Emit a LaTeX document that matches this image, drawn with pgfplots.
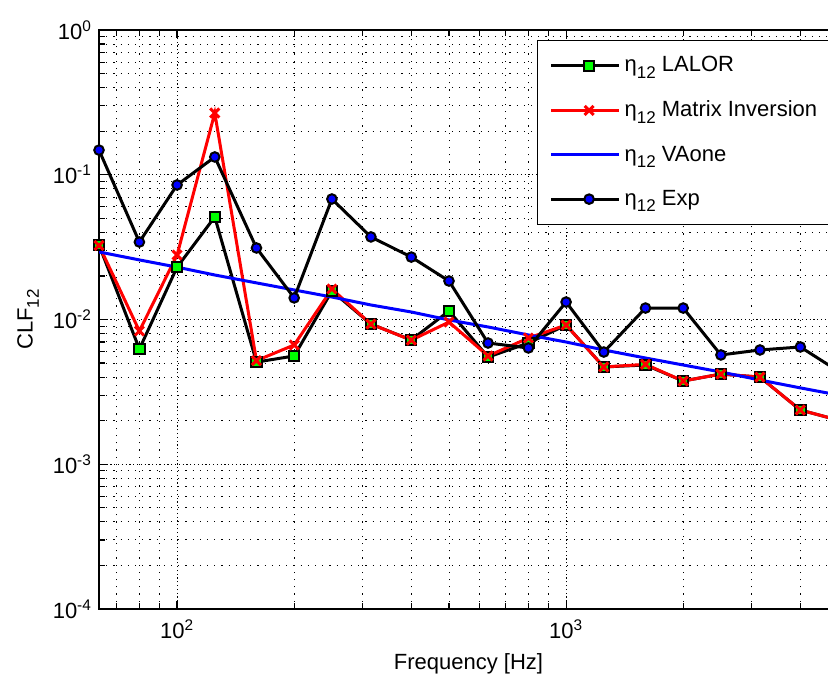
\documentclass[border=0pt]{standalone}
\usepackage{fontspec}
\setmainfont{Liberation Sans}
\usepackage{pgfplots}
\usepackage{pgfplotstable}
\pgfplotsset{compat=1.18}

% lowered subscript for the loss-factor symbols
\newcommand{\lo}[1]{\raisebox{-0.55ex}{\fontsize{8.5}{9}\selectfont #1}}

% coupling loss factor per one-third octave band
\pgfplotstableread{
f     lalor    matinv   vaone    exp
63    0.0327   0.0325   0.0293   0.148
80    0.00625  0.00833  0.0258   0.0343
100   0.0230   0.0279   0.0230   0.0850
125   0.0511   0.267    0.0203   0.1327
160   0.00508  0.0052   0.0179   0.0312
200   0.0056   0.00667  0.0160   0.0141
250   0.01574  0.01625  0.0143   0.0680
315   0.0093   0.0093   0.0126   0.0372
400   0.00722  0.0072   0.01127  0.0270
500   0.01145  0.0096   0.00993  0.01845
630   0.0055   0.0056   0.00888  0.00688
800   0.00688  0.00745  0.00782  0.00636
1000  0.00916  0.00916  0.00699  0.0132
1250  0.0047   0.0047   0.00616  0.00596
1600  0.00485  0.0049   0.00542  0.0120
2000  0.00376  0.00376  0.00485  0.0120
2500  0.0042   0.0042   0.00434  0.00569
3150  0.0040   0.0040   0.00382  0.00616
4000  0.00237  0.00237  0.00337  0.00646
5000  0.00202  0.00202  0.00301  0.00441
}\clfdata

\begin{document}
\begin{tikzpicture}
\begin{axis}[
  name=ax, at={(0,0)}, anchor=south west,
  scale only axis, width=369.5pt, height=289.5pt,
  xmode=log, ymode=log,
  xmin=63, xmax=5000, ymin=1e-4, ymax=1,
  xtick={100,1000},
  xticklabels={10\textsuperscript{2},10\textsuperscript{3}},
  ytick={1e-4,1e-3,1e-2,1e-1,1},
  yticklabels={10\textsuperscript{-4},10\textsuperscript{-3},10\textsuperscript{-2},10\textsuperscript{-1},10\textsuperscript{0}},
  minor xtick={70,80,90,200,300,400,500,600,700,800,900,2000,3000,4000},
  minor ytick={2e-4,3e-4,4e-4,5e-4,6e-4,7e-4,8e-4,9e-4,
               2e-3,3e-3,4e-3,5e-3,6e-3,7e-3,8e-3,9e-3,
               2e-2,3e-2,4e-2,5e-2,6e-2,7e-2,8e-2,9e-2,
               0.2,0.3,0.4,0.5,0.6,0.7,0.8,0.9},
  grid=both,
  major grid style={black, line width=0.45pt, dash pattern=on 0.6pt off 1.3pt},
  minor grid style={black, line width=0.45pt, dash pattern=on 0.6pt off 3pt},
  tick align=inside,
  major tick length=4pt, minor tick length=3pt,
  every tick/.style={black, line width=0.6pt},
  axis line style={black, line width=0.7pt},
  tick label style={font=\fontsize{11}{13}\selectfont},
  xticklabel style={yshift=-2pt},
  xlabel={Frequency [Hz]},
  ylabel={CLF\lo{12}},
  label style={font=\fontsize{11}{13}\selectfont},
  x label style={at={(axis description cs:0.5,-0.095)}, anchor=center},
  y label style={at={(axis description cs:-0.096,0.5)}, anchor=center},
  legend style={
    at={(axis description cs:0.5927,0.9827)}, anchor=north west,
    draw=black, line width=0.6pt, fill=white,
    font=\fontsize{11}{13}\selectfont,
    row sep=9pt, inner xsep=6pt, inner ysep=6pt,
    cells={anchor=west},
  },
  legend image code/.code={%
    \path (0pt,0pt) -- (34pt,0pt);
    \draw[mark repeat=2,mark phase=2,#1]
      plot coordinates {(4pt,0pt) (19pt,0pt) (34pt,0pt)};},
]
\addplot[black, line width=1.5pt, mark=square*,
  mark options={fill=green, draw=black, line width=1pt}, mark size=2.6pt]
  table[x=f, y=lalor] {\clfdata};
\addlegendentry{η\lo{12} LALOR}

\addplot[red, line width=1.5pt, mark=x,
  mark options={red, line width=1.5pt}, mark size=3.2pt]
  table[x=f, y=matinv] {\clfdata};
\addlegendentry{η\lo{12} Matrix Inversion}

\addplot[blue, line width=1.5pt]
  table[x=f, y=vaone] {\clfdata};
\addlegendentry{η\lo{12} VAone}

\addplot[black, line width=1.5pt, mark=*,
  mark options={fill=blue, draw=black, line width=1pt}, mark size=2.4pt]
  table[x=f, y=exp] {\clfdata};
\addlegendentry{η\lo{12} Exp}
\end{axis}
\pgfresetboundingbox
\path[use as bounding box]
  ([xshift=-49.5pt,yshift=-35pt]ax.south west)
  rectangle ([xshift=364.5pt,yshift=304.5pt]ax.south west);
\end{tikzpicture}
\end{document}
